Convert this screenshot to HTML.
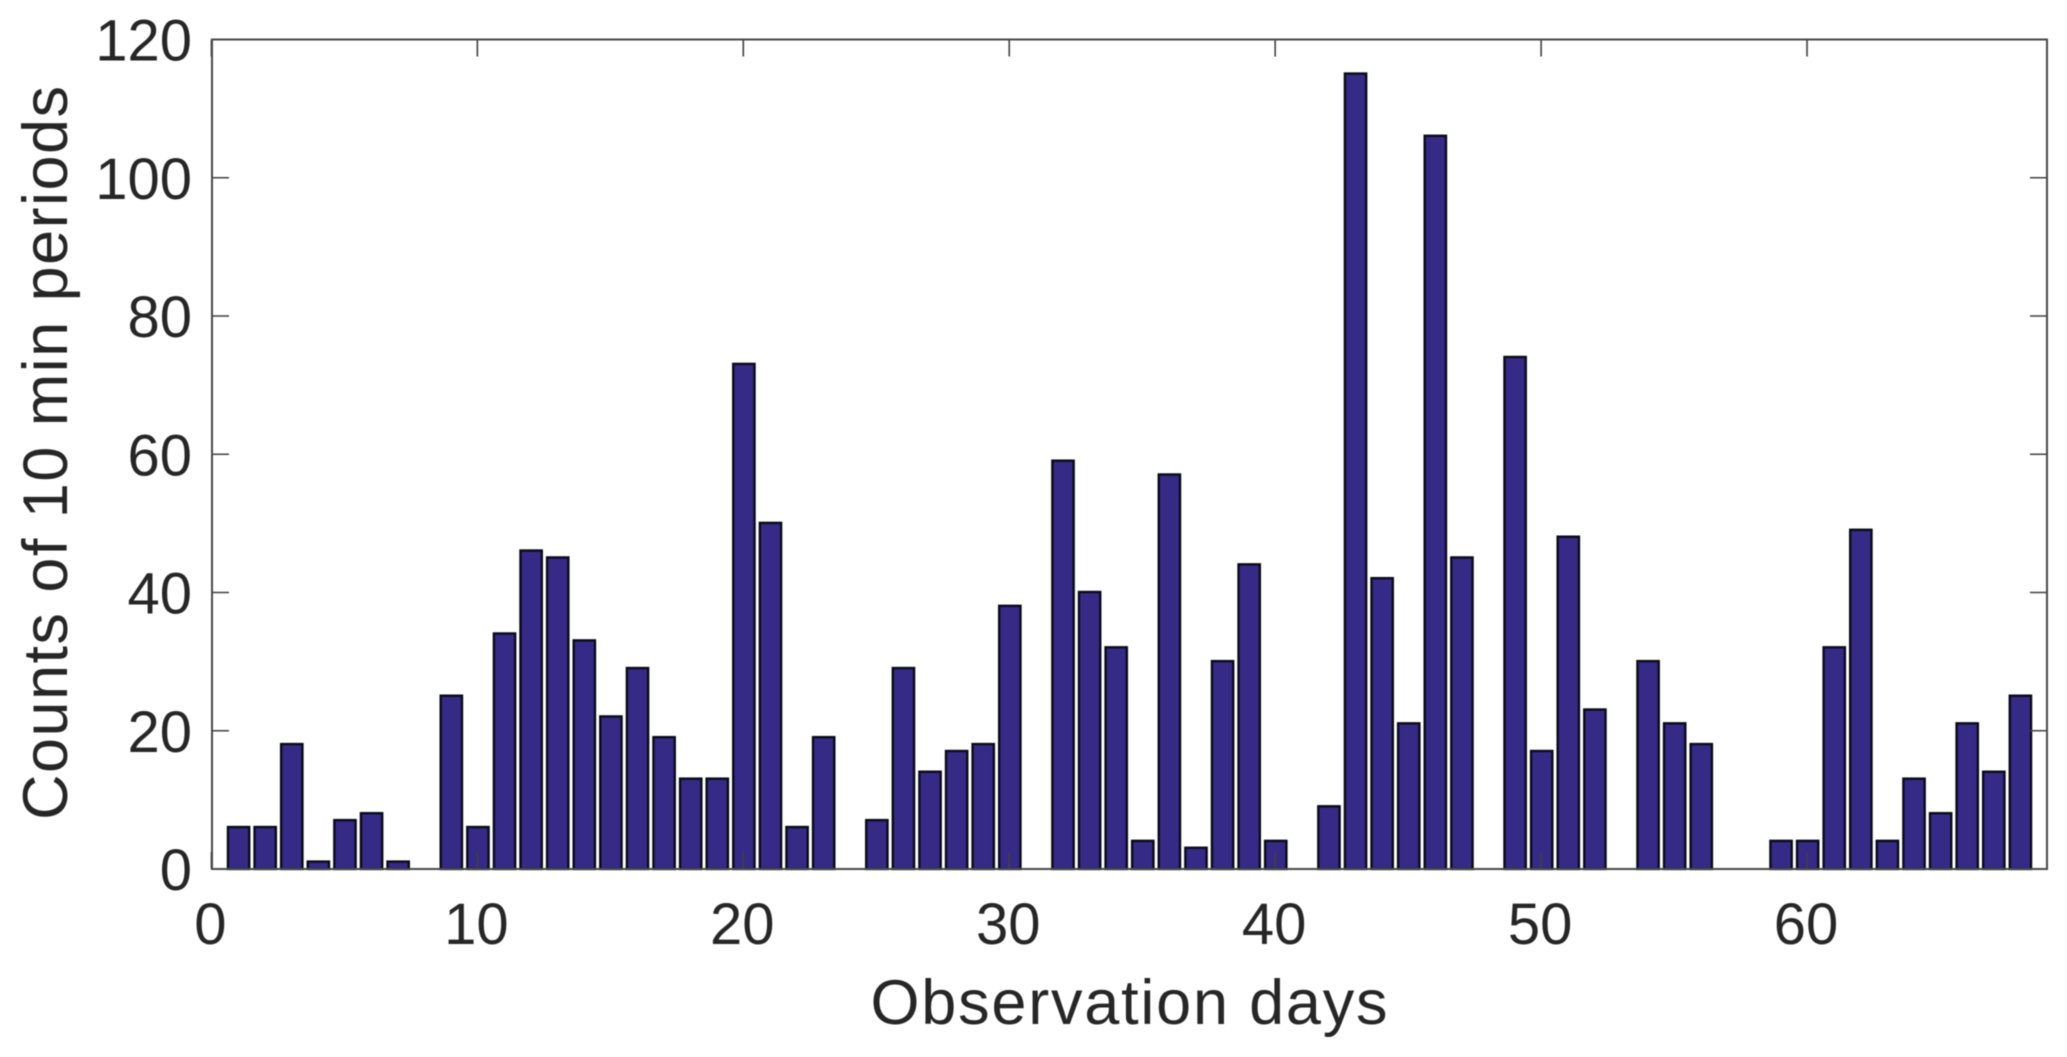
<!DOCTYPE html>
<html>
<head>
<meta charset="utf-8">
<title>Counts of 10 min periods</title>
<style>
html,body{margin:0;padding:0;background:#fff;}
svg{display:block;filter:blur(0.45px);}
text{font-family:"Liberation Sans",sans-serif;fill:#262626;font-size:58px;}
text.axis-title{font-size:63px;}
</style>
</head>
<body>
<svg id="chart" width="2067" height="1057" viewBox="0 0 2067 1057" xmlns="http://www.w3.org/2000/svg">
  <rect x="0" y="0" width="2067" height="1057" fill="#ffffff"/>
  <g id="bars"></g>
  <g id="ticks"></g>
  <rect x="212" y="39.5" width="1835" height="829.5" fill="none" stroke="#484848" stroke-width="2"/>
  <g id="labels"></g>
  <text class="axis-title" x="1129" y="1024" text-anchor="middle" textLength="517" lengthAdjust="spacing">Observation days</text>
  <text class="axis-title" transform="translate(67 453) rotate(-90)" text-anchor="middle" textLength="734" lengthAdjust="spacing">Counts of 10 min periods</text>
</svg>
<script>
const days = [1,2,3,4,5,6,7,8,9,10,11,12,13,14,15,16,17,18,19,20,21,22,23,24,25,26,27,28,29,30,31,32,33,34,35,36,37,38,39,40,41,42,43,44,45,46,47,48,49,50,51,52,53,54,55,56,57,58,59,60,61,62,63,64,65,66,67,68];
const counts = [6,6,18,1,7,8,1,0,25,6,34,46,45,33,22,29,19,13,13,73,50,6,19,0,7,29,14,17,18,38,0,59,40,32,4,57,3,30,44,4,0,9,115,42,21,106,45,0,74,17,48,23,0,30,21,18,0,0,4,4,32,49,4,13,8,21,14,25];
const xTickValues = [0,10,20,30,40,50,60];
const yTickValues = [0,20,40,60,80,100,120];

const NS = 'http://www.w3.org/2000/svg';
const plotLeft = 212, plotRight = 2047, plotTop = 39.5, plotBottom = 869;
const xMax = 69, yMax = 120, barWidth = 0.8, tickLen = 17;

function xScale(v) { return plotLeft + (v / xMax) * (plotRight - plotLeft); }
function yScale(v) { return plotBottom - (v / yMax) * (plotBottom - plotTop); }

function make(tag, attrs, parent) {
  const el = document.createElementNS(NS, tag);
  for (const k in attrs) el.setAttribute(k, attrs[k]);
  parent.appendChild(el);
  return el;
}

const barsG = document.getElementById('bars');
const ticksG = document.getElementById('ticks');
const labelsG = document.getElementById('labels');

days.forEach(function (d, i) {
  if (counts[i] <= 0) return;
  const x0 = xScale(d - barWidth / 2), x1 = xScale(d + barWidth / 2);
  const y = yScale(counts[i]) - 0.5;
  const bar = make('rect', {x: x0, y: y, width: x1 - x0, height: plotBottom - y, fill: '#362a87', stroke: '#0a0a18', 'stroke-width': 2.4}, barsG);
  
  
});

xTickValues.forEach(function (v) {
  const x = xScale(v) - 0.6;
  const bottomTick = make('line', {x1: x, x2: x, y1: plotBottom, y2: plotBottom - tickLen, stroke: '#404040', 'stroke-width': 1.6}, ticksG);
  
  
  const topTick = make('line', {x1: x, x2: x, y1: plotTop, y2: plotTop + tickLen, stroke: '#404040', 'stroke-width': 1.6}, ticksG);
  
  
  const label = make('text', {x: x - 1, y: 944, 'text-anchor': 'middle'}, labelsG);
  label.textContent = String(v);
  
  
});

yTickValues.forEach(function (v) {
  const y = yScale(v);
  const leftTick = make('line', {x1: plotLeft, x2: plotLeft + tickLen, y1: y, y2: y, stroke: '#404040', 'stroke-width': 1.6}, ticksG);
  
  
  const rightTick = make('line', {x1: plotRight, x2: plotRight - tickLen, y1: y, y2: y, stroke: '#404040', 'stroke-width': 1.6}, ticksG);
  
  
  const label = make('text', {x: 192, y: y + 21, 'text-anchor': 'end'}, labelsG);
  label.textContent = String(v);
  
  
});
</script>
</body>
</html>
